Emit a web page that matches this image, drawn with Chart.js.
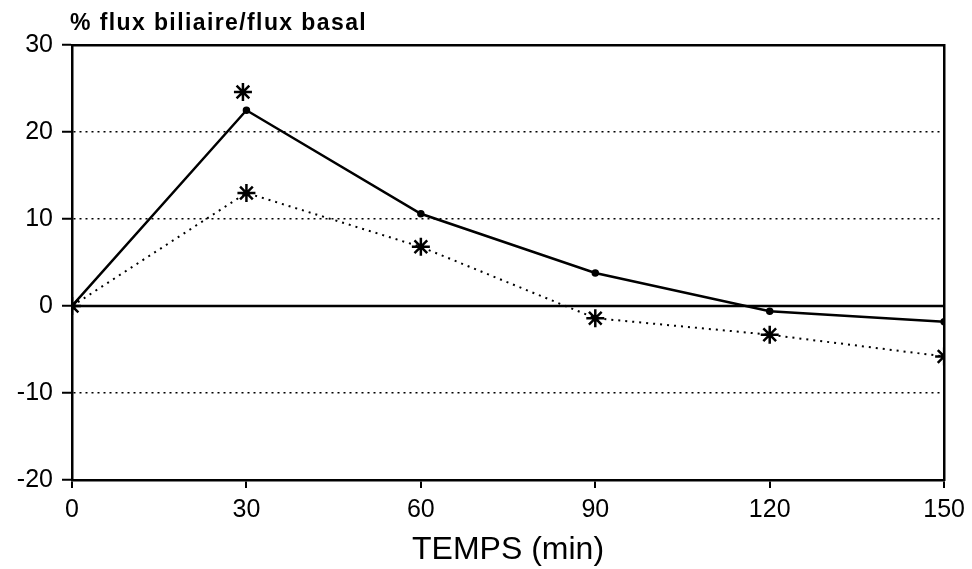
<!DOCTYPE html>
<html>
<head>
<meta charset="utf-8">
<script src="https://cdn.jsdelivr.net/npm/chart.js@4"></script>
<style>
	html, body { margin: 0; padding: 0; background: #fff; }
	#wrap { width: 972px; height: 569px; }
</style>
</head>
<body>
<div id="wrap"><canvas id="chart"></canvas></div>
<script>
// Data
const times = [0, 30, 60, 90, 120, 150];
const solidSeries = [0, 22.5, 10.6, 3.8, -0.6, -1.8];
const dottedSeries = [0, 13.0, 6.8, -1.4, -3.3, -5.8];
const extraStar = [{ x: 29.4, y: 24.6 }];
const zeroLine = [{ x: 0, y: 0 }, { x: 150, y: 0 }];
const xTicks = [0, 30, 60, 90, 120, 150];
const yTicks = [-20, -10, 0, 10, 20, 30];

const font = 'Liberation Sans, Arial, sans-serif';

// Shorthand to pair times and values
const toPoints = (values) => values.map((v, i) => ({ x: times[i], y: v }));

// Draws the unit label above the y axis
const yLabelPlugin = {
	id: 'yLabel',
	afterDraw(chart) {
		const ctx = chart.ctx;
		ctx.save();
		ctx.fillStyle = '#000';
		ctx.font = 'bold 23px ' + font;
		ctx.letterSpacing = '1.4px';
		ctx.textAlign = 'left';
		ctx.textBaseline = 'middle';
		ctx.fillText('% flux biliaire/flux basal', chart.chartArea.left - 2, 24);
		ctx.restore();
	}
};

new Chart(document.getElementById('chart'), {
	type: 'line',
	data: {
		datasets: [
			{
				label: 'zero',
				data: zeroLine,
				borderColor: '#000',
				borderWidth: 2.5,
				pointRadius: 0
			},
			{
				label: 'solid',
				data: toPoints(solidSeries),
				borderColor: '#000',
				backgroundColor: '#000',
				borderWidth: 2.5,
				tension: 0,
				pointRadius: 2.5,
				pointStyle: 'circle'
			},
			{
				label: 'dotted',
				data: toPoints(dottedSeries),
				borderColor: '#000',
				backgroundColor: '#000',
				borderWidth: 2,
				borderDash: [2, 5],
				tension: 0,
				pointRadius: 9,
				pointStyle: 'star',
				pointBorderWidth: 2.5
			},
			{
				label: 'extra',
				data: extraStar,
				showLine: false,
				borderColor: '#000',
				backgroundColor: '#000',
				pointRadius: 9,
				pointStyle: 'star',
				pointBorderWidth: 2.5
			}
		]
	},
	options: {
		responsive: true,
		maintainAspectRatio: false,
		animation: false,
		layout: { padding: { top: 45, right: 24, left: 0, bottom: 0 } },
		plugins: {
			legend: { display: false },
			tooltip: { enabled: false }
		},
		scales: {
			x: {
				type: 'linear',
				min: 0,
				max: 150,
				afterFit: (s) => { s.height = 89; },
				afterBuildTicks: (s) => { s.ticks = xTicks.map((v) => ({ value: v })); },
				border: { display: true, color: '#000', width: 2.5 },
				grid: { drawOnChartArea: false, drawTicks: true, tickLength: 8, color: '#000', lineWidth: 2 },
				ticks: { color: '#000', padding: 7, font: { family: font, size: 25 } },
				title: {
					display: true,
					text: 'TEMPS (min)',
					color: '#000',
					font: { family: font, size: 32 },
					padding: { top: 0, bottom: 0 }
				}
			},
			x2: {
				type: 'linear',
				position: 'top',
				min: 0,
				max: 150,
				afterFit: (s) => { s.height = 0; },
				border: { display: true, color: '#000', width: 2.5 },
				grid: { drawOnChartArea: false, drawTicks: false },
				ticks: { display: false }
			},
			y: {
				min: -20,
				max: 30,
				afterFit: (s) => { s.width = 72; },
				afterBuildTicks: (s) => { s.ticks = yTicks.map((v) => ({ value: v })); },
				border: { display: true, color: '#000', width: 2.5, dash: [2, 4] },
				grid: { color: '#000', lineWidth: 1.5, drawTicks: true, tickLength: 10, tickColor: '#000', tickWidth: 2 },
				ticks: { color: '#000', padding: 9, font: { family: font, size: 25 } }
			},
			y2: {
				position: 'right',
				min: -20,
				max: 30,
				afterFit: (s) => { s.width = 0; },
				border: { display: true, color: '#000', width: 2.5 },
				grid: { drawOnChartArea: false, drawTicks: false },
				ticks: { display: false }
			}
		}
	},
	plugins: [yLabelPlugin]
});
</script>
</body>
</html>
